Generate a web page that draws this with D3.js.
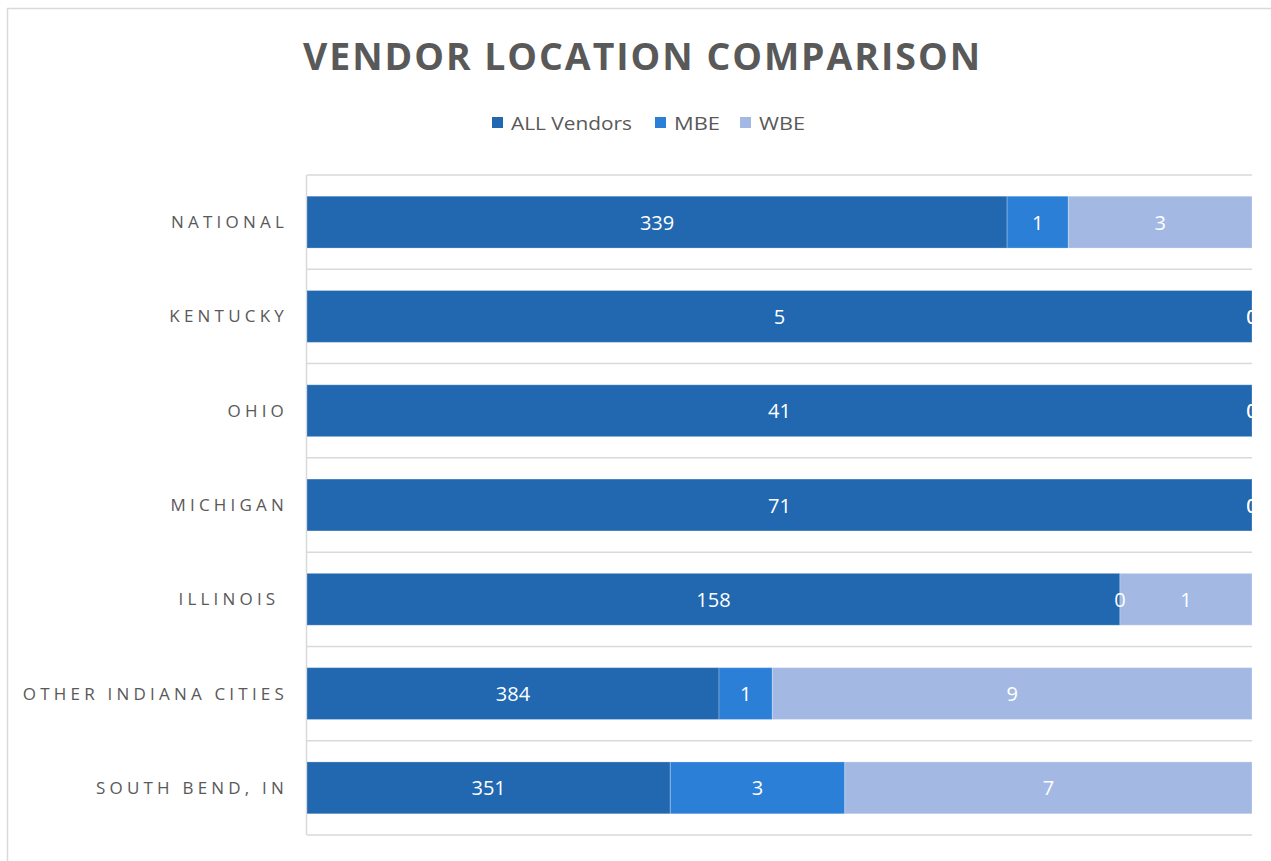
<!DOCTYPE html>
<html>
<head>
<meta charset="utf-8">
<script src="https://cdn.jsdelivr.net/npm/d3@7"></script>
<style>
  body { margin: 0; background: #fff; }
  text { font-family: "Open Sans", "Noto Sans", sans-serif; }
</style>
</head>
<body>
<div id="chart"></div>
<script>
// Chart size and plot area
const width = 1271;
const height = 861;
const margin = { top: 175, right: 19, bottom: 26, left: 307 };

// Data
const categories = ["NATIONAL", "KENTUCKY", "OHIO", "MICHIGAN", "ILLINOIS ", "OTHER INDIANA CITIES", "SOUTH BEND, IN"];
const seriesNames = ["ALL Vendors", "MBE", "WBE"];
const allVendors = [339, 5, 41, 71, 158, 384, 351];
const mbe = [1, 0, 0, 0, 0, 1, 3];
const wbe = [3, 0, 0, 0, 1, 9, 7];
const colors = ["#2168b0", "#2b7fd6", "#a3b9e4"];

// Axis minimum of the 100% stacked axis (the chart zooms in on the right end)
const axisMin = 0.955;

const rows = categories.map((c, i) => ({
    category: c,
    "ALL Vendors": allVendors[i],
    "MBE": mbe[i],
    "WBE": wbe[i]
}));

const stack = d3.stack()
    .keys(seriesNames)
    .offset(d3.stackOffsetExpand);
const layers = stack(rows);

const x = d3.scaleLinear()
    .domain([axisMin, 1])
    .range([margin.left, width - margin.right]);

const y = d3.scaleBand()
    .domain(categories)
    .range([margin.top, height - margin.bottom])
    .paddingInner(0.45)
    .paddingOuter(0.225);

const svg = d3.select("#chart")
    .append("svg")
    .attr("width", width)
    .attr("height", height);

// Outer chart border
svg.append("rect")
    .attr("x", 7.5)
    .attr("y", 8.5)
    .attr("width", width + 10)
    .attr("height", height + 10)
    .attr("fill", "none")
    .attr("stroke", "#d9d9d9")
    .attr("stroke-width", 1.5);

// Title
svg.append("text")
    .attr("x", 642.5)
    .attr("y", 70)
    .attr("text-anchor", "middle")
    .attr("font-size", 38)
    .attr("font-weight", "bold")
    .attr("letter-spacing", "2px")
    .attr("fill", "#595959")
    .attr("textLength", 679)
    .attr("lengthAdjust", "spacingAndGlyphs")
    .text("VENDOR LOCATION COMPARISON");

// Legend
const legendItems = [
    { name: "ALL Vendors", x: 492, w: 121 },
    { name: "MBE", x: 655, w: 46 },
    { name: "WBE", x: 740, w: 46 }
];
const legend = svg.append("g");
legendItems.forEach((d, i) => {
    legend.append("rect")
        .attr("x", d.x)
        .attr("y", 117)
        .attr("width", 11)
        .attr("height", 11)
        .attr("fill", colors[i]);
    legend.append("text")
        .attr("x", d.x + 19)
        .attr("y", 130)
        .attr("font-size", 19)
        .attr("fill", "#595959")
        .attr("textLength", d.w)
        .attr("lengthAdjust", "spacingAndGlyphs")
        .text(d.name);
});

// Clip to plot area
svg.append("clipPath")
    .attr("id", "plot-clip")
    .append("rect")
    .attr("x", margin.left)
    .attr("y", margin.top)
    .attr("width", width - margin.right - margin.left)
    .attr("height", height - margin.bottom - margin.top);

// Category gridlines (band boundaries)
const step = y.step();
const gridY = d3.range(categories.length + 1).map(i => margin.top + i * step);
svg.append("g")
    .selectAll("line")
    .data(gridY)
    .join("line")
    .attr("x1", margin.left)
    .attr("x2", width - margin.right)
    .attr("y1", d => d)
    .attr("y2", d => d)
    .attr("stroke", "#d9d9d9")
    .attr("stroke-width", 1.5);

// Left axis line
svg.append("line")
    .attr("x1", margin.left - 0.5)
    .attr("x2", margin.left - 0.5)
    .attr("y1", margin.top)
    .attr("y2", height - margin.bottom)
    .attr("stroke", "#d9d9d9")
    .attr("stroke-width", 1.5);

// Bars
const plot = svg.append("g").attr("clip-path", "url(#plot-clip)");

plot.selectAll("g.layer")
    .data(layers)
    .join("g")
    .attr("class", "layer")
    .attr("fill", (d, i) => colors[i])
    .selectAll("rect")
    .data(d => d)
    .join("rect")
    .attr("x", d => x(Math.max(d[0], axisMin)))
    .attr("y", d => y(d.data.category))
    .attr("width", d => Math.max(0, x(d[1]) - x(Math.max(d[0], axisMin))))
    .attr("height", y.bandwidth())
    .attr("stroke", "rgba(255,255,255,0.25)")
    .attr("stroke-width", 1);

// Data labels
plot.selectAll("g.labels")
    .data(layers)
    .join("g")
    .attr("class", "labels")
    .selectAll("text")
    .data(d => d.map(p => ({ p, key: d.key })))
    .join("text")
    .attr("x", d => (x(Math.max(d.p[0], axisMin)) + x(d.p[1])) / 2)
    .attr("y", d => y(d.p.data.category) + y.bandwidth() / 2 + 7.5)
    .attr("text-anchor", "middle")
    .attr("font-size", 20)
    .attr("fill", "#ffffff")
    .text(d => d.p.data[d.key]);

// Category labels
svg.append("g")
    .selectAll("text")
    .data(categories)
    .join("text")
    .attr("x", 288)
    .attr("y", d => y(d) + y.bandwidth() / 2 + 6)
    .attr("text-anchor", "end")
    .attr("font-size", 17)
    .attr("letter-spacing", "4.2px")
    .attr("fill", "#595959")
    .style("white-space", "pre")
    .text(d => d);
</script>
</body>
</html>
